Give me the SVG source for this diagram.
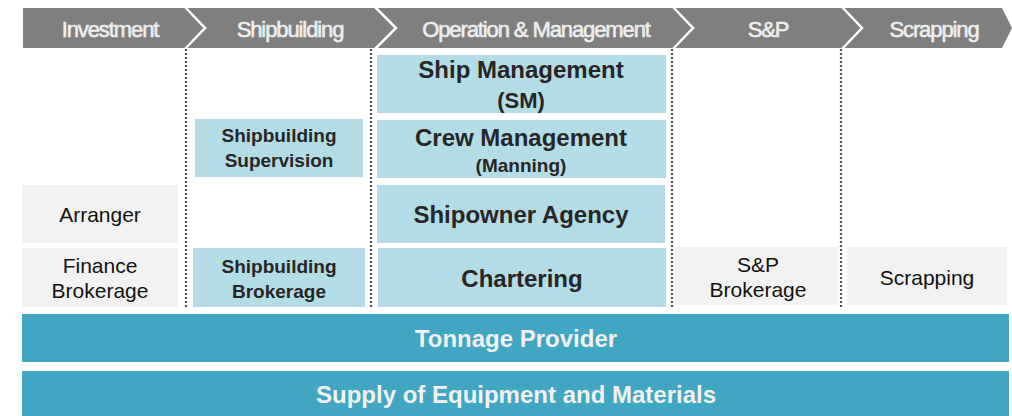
<svg xmlns="http://www.w3.org/2000/svg" width="1012" height="416" viewBox="0 0 1012 416">
<style>
.hdr{font-family:"Liberation Sans",Arial,sans-serif;font-size:22px;fill:#eeeeee;stroke:#eeeeee;stroke-width:0.6;text-anchor:middle;letter-spacing:-1.1px}
.sep{fill:none;stroke:#ffffff;stroke-width:2.5}
.dot{stroke:#555555;stroke-width:2.2;stroke-dasharray:2 2}
.blue{fill:#b4dce7}
.grey{fill:#f2f2f2}
.teal{fill:#41a6c1}
.bt{font-family:"Liberation Sans",Arial,sans-serif;font-weight:bold;fill:#262626;text-anchor:middle}
.rt{font-family:"Liberation Sans",Arial,sans-serif;font-size:21px;fill:#111111;text-anchor:middle}
.wt{font-family:"Liberation Sans",Arial,sans-serif;font-weight:bold;font-size:24px;fill:#f2f2f2;text-anchor:middle}
</style>
<rect width="1012" height="416" fill="#ffffff"/>
<g id="header">
<polygon points="23,8 1002,8 1012,28 1002,48 23,48" fill="#7f7f7f"/>
<polyline class="sep" points="185,7 205,28 185,49"/>
<polyline class="sep" points="375,7 396,28 375,49"/>
<polyline class="sep" points="673,7 693,28 673,49"/>
<polyline class="sep" points="842,7 862,28 842,49"/>
<text class="hdr" x="110" y="37">Investment</text>
<text class="hdr" x="290" y="37">Shipbuilding</text>
<text class="hdr" x="536" y="37">Operation &amp; Management</text>
<text class="hdr" x="768" y="37">S&amp;P</text>
<text class="hdr" x="934" y="37">Scrapping</text>
</g>
<g id="connectors">
<line class="dot" x1="186" y1="49" x2="186" y2="308"/>
<line class="dot" x1="371" y1="49" x2="371" y2="308"/>
<line class="dot" x1="672" y1="49" x2="672" y2="308"/>
<line class="dot" x1="841" y1="49" x2="841" y2="308"/>
</g>
<g id="arranger"><rect class="grey" x="22" y="185" width="156" height="58"/><text class="rt" x="100" y="222">Arranger</text></g>
<g id="finance-brokerage"><rect class="grey" x="22" y="248" width="156" height="59"/><text class="rt" x="100" y="273">Finance</text><text class="rt" x="100" y="298">Brokerage</text></g>
<g id="shipbuilding-supervision"><rect class="blue" x="195" y="119" width="168" height="58"/><text class="bt" font-size="19" x="279" y="142">Shipbuilding</text><text class="bt" font-size="19" x="279" y="167">Supervision</text></g>
<g id="shipbuilding-brokerage"><rect class="blue" x="193" y="248" width="172" height="59"/><text class="bt" font-size="19" x="279" y="273">Shipbuilding</text><text class="bt" font-size="19" x="279" y="298">Brokerage</text></g>
<g id="ship-management"><rect class="blue" x="377" y="55" width="289" height="58"/><text class="bt" font-size="24" x="521" y="78">Ship Management</text><text class="bt" font-size="22" x="521" y="108">(SM)</text></g>
<g id="crew-management"><rect class="blue" x="377" y="120" width="289" height="58"/><text class="bt" font-size="24" x="521" y="146">Crew Management</text><text class="bt" font-size="19" x="521" y="172">(Manning)</text></g>
<g id="shipowner-agency"><rect class="blue" x="377" y="185" width="288" height="58"/><text class="bt" font-size="24" x="521" y="223">Shipowner Agency</text></g>
<g id="chartering"><rect class="blue" x="378" y="248" width="288" height="59"/><text class="bt" font-size="24" x="522" y="287">Chartering</text></g>
<g id="sp-brokerage"><rect class="grey" x="675" y="247" width="163" height="58"/><text class="rt" x="758" y="272">S&amp;P</text><text class="rt" x="758" y="297">Brokerage</text></g>
<g id="scrapping"><rect class="grey" x="847" y="247" width="160" height="58"/><text class="rt" x="927" y="285">Scrapping</text></g>
<g id="tonnage-provider"><rect class="teal" x="22" y="314" width="987" height="48"/><text class="wt" x="516" y="347">Tonnage Provider</text></g>
<g id="supply"><rect class="teal" x="22" y="371" width="987" height="45"/><text class="wt" x="516" y="403">Supply of Equipment and Materials</text></g>
</svg>
